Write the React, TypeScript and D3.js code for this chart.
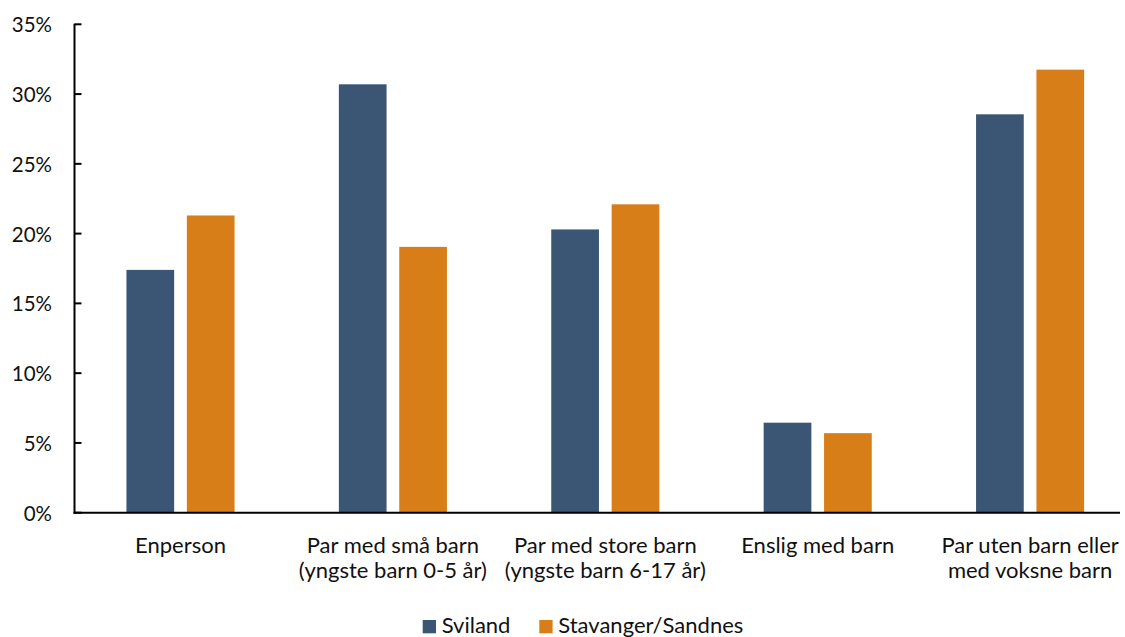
import React from "react";
import * as d3 from "d3";

// Household composition shares, Sviland vs. Stavanger/Sandnes
const categories: string[][] = [
  ["Enperson"],
  ["Par med små barn", "(yngste barn 0-5 år)"],
  ["Par med store barn", "(yngste barn 6-17 år)"],
  ["Enslig med barn"],
  ["Par uten barn eller", "med voksne barn"],
];
const seriesNames = ["Sviland", "Stavanger/Sandnes"];
const sviland = [17.4, 30.7, 20.3, 6.45, 28.55];
const stavangerSandnes = [21.3, 19.05, 22.1, 5.7, 31.75];
const yTicks = [0, 5, 10, 15, 20, 25, 30, 35];
const colors = ["#3A5674", "#D77E18"];

const W = 1125;
const H = 637;
const FONT = "Lato, 'Open Sans', sans-serif";

export default function App() {
  const x0 = 74.5;
  const xEnd = 1120;
  const y = d3.scaleLinear().domain([0, 35]).range([512.7, 24.3]);
  const band = d3
    .scaleBand<number>()
    .domain(categories.map((_, i) => i))
    .range([74.3, 1136.3])
    .paddingInner(0)
    .paddingOuter(0);
  const barW = 47.7;
  const gap = 12.7;
  const values = [sviland, stavangerSandnes];

  return (
    <svg
      width={W}
      height={H}
      style={{ position: "absolute", left: 0, top: 0, background: "#fff" }}
      fontFamily={FONT}
    >
      {/* bars */}
      {categories.map((_, i) => {
        const c = band(i)! + band.bandwidth() / 2;
        return values.map((vals, s) => {
          const xl = s === 0 ? c - gap / 2 - barW : c + gap / 2;
          return (
            <rect
              key={`${i}-${s}`}
              x={xl}
              y={y(vals[i])}
              width={barW}
              height={y(0) - y(vals[i])}
              fill={colors[s]}
            />
          );
        });
      })}

      {/* y axis */}
      <line x1={x0} x2={x0} y1={y(35) - 0.5} y2={y(0) + 1} stroke="#000" strokeWidth={2} />
      {yTicks.map((t) => (
        <g key={t}>
          <line x1={x0} x2={x0 + 7} y1={y(t)} y2={y(t)} stroke="#000" strokeWidth={2} />
          <text
            x={52}
            y={y(t)}
            textAnchor="end"
            dominantBaseline="central"
            fontSize={20.5}
            fill="#111"
          >
            {`${t}%`}
          </text>
        </g>
      ))}

      {/* x axis */}
      <line x1={x0 - 1} x2={xEnd} y1={y(0)} y2={y(0)} stroke="#000" strokeWidth={2} />
      {categories.map((lines, i) => {
        const c = band(i)! + band.bandwidth() / 2;
        return (
          <text key={i} x={c} textAnchor="middle" fontSize={22} fill="#111">
            {lines.map((l, k) => (
              <tspan key={k} x={c} y={553 + k * 25}>
                {l}
              </tspan>
            ))}
          </text>
        );
      })}

      {/* legend */}
      {seriesNames.map((n, s) => {
        const lx = s === 0 ? 422.7 : 539.3;
        return (
          <g key={n}>
            <rect x={lx} y={620} width={13.3} height={13.3} fill={colors[s]} />
            <text x={lx + 19} y={633} fontSize={22} fill="#111">
              {n}
            </text>
          </g>
        );
      })}
    </svg>
  );
}
